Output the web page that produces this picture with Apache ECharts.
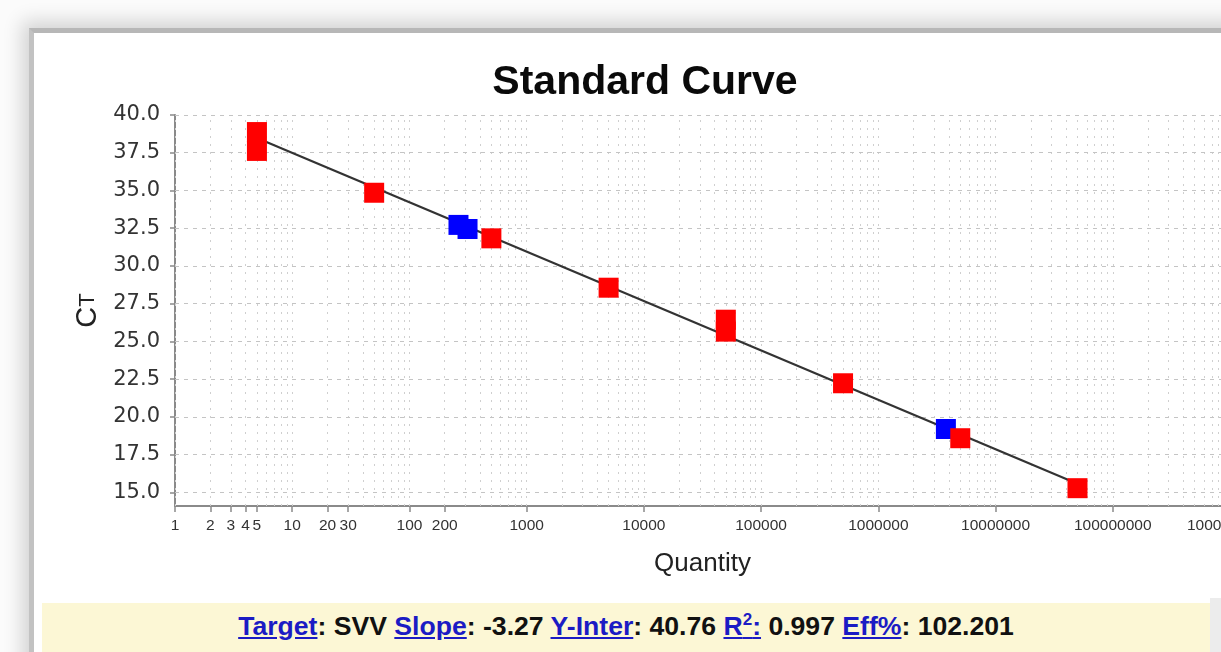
<!DOCTYPE html>
<html>
<head>
<meta charset="utf-8">
<script src="https://cdn.jsdelivr.net/npm/echarts@6/dist/echarts.min.js"></script>
<style>
  html, body { margin:0; padding:0; width:1221px; height:652px; overflow:hidden; background:#fbfbfb; }
  #panel { position:absolute; left:29px; top:28px; width:1300px; height:700px; background:#ffffff;
           border-top:5px solid #b7b7b7; border-left:5px solid #c2c2c2;
           box-shadow:-3px -3px 18px 4px rgba(0,0,0,0.16); }
  #chart { position:absolute; left:0; top:0; width:1221px; height:652px; }
  #bar { position:absolute; left:42px; top:603px; width:1168px; height:60px; background:#fcf7d5;
         font-family:"Liberation Sans", Arial, sans-serif; font-weight:bold; font-size:26.6px; color:#111;
         text-align:center; line-height:46px; white-space:nowrap; }
  #bar a { color:#1b1bc4; text-decoration:underline; }
  #bar sup { font-size:17px; line-height:0; }
  #side { position:absolute; left:1210px; top:598px; width:20px; height:60px; background:#ececec; }
</style>
</head>
<body>
<div id="panel"></div>
<div id="chart"></div>
<div id="bar"><a>Target</a>: SVV <a>Slope</a>: -3.27 <a>Y-Inter</a>: 40.76 <a>R<sup>2</sup>:</a> 0.997 <a>Eff%</a>: 102.201</div>
<div id="side"></div>
<script>
// ---- data ----
const redQuantity = [5, 5, 50, 500, 5000, 50000, 50000, 500000, 5000000, 50000000];
const redCt       = [38.87, 37.62, 34.85, 31.83, 28.56, 26.44, 25.65, 22.23, 18.59, 15.28];
const blueQuantity = [262, 313, 3770000];
const blueCt       = [32.72, 32.45, 19.2];
const fitQuantity = [5, 50000000];
const fitCt       = [38.47, 15.58];
const yTickValues = [15, 17.5, 20, 22.5, 25, 27.5, 30, 32.5, 35, 37.5, 40];
const xTickValues = [1, 2, 3, 4, 5, 10, 20, 30, 100, 200, 1000, 10000, 100000, 1000000, 10000000, 100000000, 1000000000];
const xDecades = [1, 10, 100, 1000, 10000, 100000, 1000000, 10000000, 100000000];
const xMultipliers = [1, 2, 3, 4, 5, 6, 7, 8, 9];

const zip = (a, b) => a.map((v, i) => [v, b[i]]);

// grid lines (structure of the axes)
const vGrid = [];
xDecades.forEach(d => xMultipliers.forEach(m => vGrid.push({ xAxis: d * m })));
const hGrid = yTickValues.map(v => ({ yAxis: v }));

const chart = echarts.init(document.getElementById('chart'), null, { renderer: 'canvas' });
chart.setOption({
  animation: false,
  backgroundColor: 'transparent',
  title: {
    text: 'Standard Curve',
    left: 640, top: 57, textAlign: 'center',
    textStyle: { fontFamily: 'Liberation Sans', fontWeight: 'bold', fontSize: 41, color: '#0a0a0a' }
  },
  grid: { left: 175, top: 115, right: -9, bottom: 146, containLabel: false, outerBoundsMode: 'none' },
  xAxis: {
    type: 'log', logBase: 10, min: 1, max: 1000000000,
    name: 'Quantity', nameLocation: 'middle', nameGap: 45,
    nameTextStyle: { fontFamily: 'Liberation Sans', fontSize: 26, color: '#222' },
    axisLine: { show: true, lineStyle: { color: '#8a8a8a', width: 2 } },
    axisTick: { show: true, length: 6, customValues: xTickValues, lineStyle: { color: '#8a8a8a', width: 1.5 } },
    axisLabel: {
      customValues: xTickValues, hideOverlap: false, margin: 12,
      fontFamily: 'Liberation Sans', fontSize: 15.5, color: '#333',
      formatter: v => String(Math.round(v))
    },
    splitLine: { show: false }, minorSplitLine: { show: false }
  },
  yAxis: {
    type: 'value', min: 14.1, max: 40,
    name: '{c|C}{t|T}', nameLocation: 'middle', nameGap: 69,
    nameTextStyle: { rich: {
      c: { fontFamily: 'Liberation Sans', fontSize: 29, color: '#222' },
      t: { fontFamily: 'Liberation Sans', fontSize: 22, color: '#222' } } },
    axisLine: { show: true, lineStyle: { color: '#8a8a8a', width: 2 } },
    axisTick: { show: true, length: 5, customValues: yTickValues, lineStyle: { color: '#8a8a8a', width: 1.5 } },
    axisLabel: {
      customValues: yTickValues, margin: 15,
      fontFamily: 'DejaVu Sans', fontSize: 21, color: '#333',
      formatter: v => Number(v).toFixed(1)
    },
    splitLine: { show: false }
  },
  series: [
    {
      type: 'line', data: [], silent: true, z: 1,
      markLine: {
        silent: true, z: 1, symbol: ['none', 'none'], label: { show: false },
        lineStyle: { color: '#cfcfcf', width: 1, type: [2, 6] },
        data: vGrid
      }
    },
    {
      type: 'line', data: [], silent: true, z: 1,
      markLine: {
        silent: true, z: 1, symbol: ['none', 'none'], label: { show: false },
        lineStyle: { color: '#c4c4c4', width: 1, type: [4, 5] },
        data: hGrid
      }
    },
    {
      name: 'fit', type: 'line', data: zip(fitQuantity, fitCt), z: 6,
      showSymbol: false, lineStyle: { color: '#333333', width: 2.2 }
    },
    {
      name: 'unknown', type: 'scatter', data: zip(blueQuantity, blueCt), z: 10,
      symbol: 'rect', symbolSize: 20, itemStyle: { color: '#0000ff', opacity: 1 }
    },
    {
      name: 'standard', type: 'scatter', data: zip(redQuantity, redCt), z: 11,
      symbol: 'rect', symbolSize: 20, itemStyle: { color: '#ff0000', opacity: 1 }
    }
  ]
});
</script>
</body>
</html>
